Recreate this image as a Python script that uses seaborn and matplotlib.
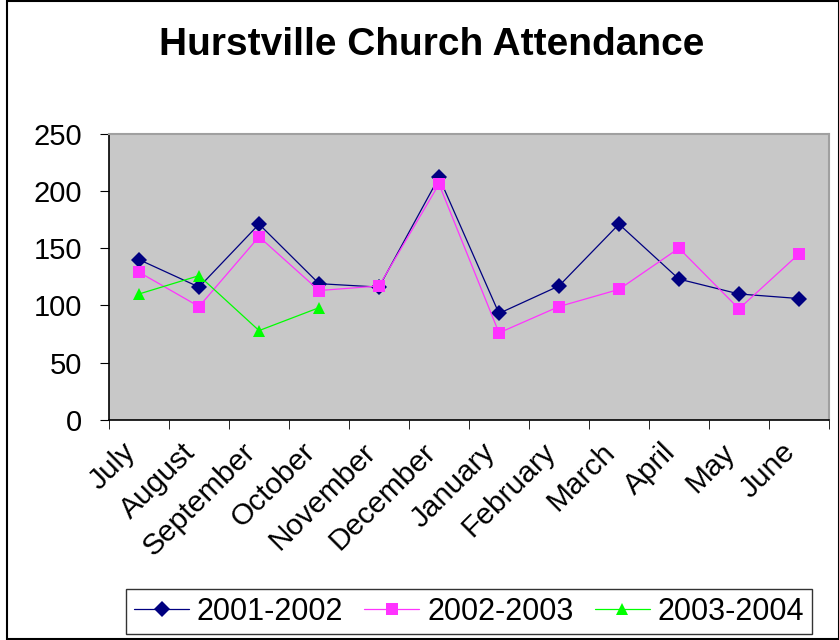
import numpy as np
import pandas as pd
import seaborn as sns
import matplotlib.pyplot as plt
import matplotlib.transforms as mtransforms
from matplotlib.patches import Rectangle

months = ['July', 'August', 'September', 'October', 'November', 'December',
          'January', 'February', 'March', 'April', 'May', 'June']
att_2001 = [140, 116, 171, 119, 116, 212, 93, 117, 171, 123, 110, 106]
att_2002 = [129, 99, 160, 113, 117, 206, 76, 99, 114, 150, 97, 145]
att_2003 = [110, 126, 78, 98, np.nan, np.nan, np.nan, np.nan, np.nan, np.nan, np.nan, np.nan]

seasons = ['2001-2002', '2002-2003', '2003-2004']
colors = ['#000080', '#FF33FF', '#00FF00']
markers = ['D', 's', '^']

df = pd.DataFrame({
    'month': months * 3,
    'pos': list(range(len(months))) * 3,
    'season': np.repeat(seasons, len(months)),
    'attendance': att_2001 + att_2002 + att_2003,
}).dropna()

sns.set_style('white')
plt.rcParams['font.family'] = ['Liberation Sans', 'DejaVu Sans']
plt.rcParams['text.color'] = 'black'
plt.rcParams['xtick.color'] = 'black'
plt.rcParams['ytick.color'] = 'black'

fig = plt.figure(figsize=(8.39, 6.40), dpi=100)
ax = fig.add_axes([0.130, 0.344, 0.858, 0.447])
ax.set_facecolor('#C8C8C8')

sns.lineplot(data=df, x='pos', y='attendance', hue='season', style='season',
             palette=colors, markers=markers, dashes=False, linewidth=0.9,
             markersize=8, markeredgewidth=0, ax=ax, legend=False)

ax.set_xlim(-0.5, len(months) - 0.5)
ax.set_ylim(0, 250)
ax.set_yticks(range(0, 251, 50))
ax.tick_params(axis='y', labelsize=21, length=6.5, direction='out', left=True, pad=13)
ax.set_xticks(range(len(months)))
ax.set_xticklabels(months, rotation=45, ha='right', rotation_mode='anchor', fontsize=21.5)
ax.tick_params(axis='x', which='major', length=0, pad=13)
# labels in the original sit a little left of the category centre
shift = mtransforms.ScaledTranslation(-0.18, 0, fig.dpi_scale_trans)
for lbl in ax.get_xticklabels():
    lbl.set_transform(lbl.get_transform() + shift)
ax.set_xticks(np.arange(-0.5, len(months), 1), minor=True)
ax.tick_params(axis='x', which='minor', length=6.5, direction='out', bottom=True)
ax.set_xlabel('')
ax.set_ylabel('')
for side in ['left', 'bottom']:
    ax.spines[side].set_color('black')
    ax.spines[side].set_linewidth(1.2)
for side in ['top', 'right']:
    ax.spines[side].set_color('#A0A0A0')
    ax.spines[side].set_linewidth(1.5)

fig.text(0.515, 0.930, 'Hurstville Church Attendance', ha='center', va='center',
         fontsize=28, fontweight='bold')

handles = [plt.Line2D([], [], color=c, marker=m, linewidth=0.9, markersize=8, markeredgewidth=0)
           for c, m in zip(colors, markers)]
leg = fig.legend(handles, seasons, loc='center', bbox_to_anchor=(0.559, 0.044), ncol=3,
                 fontsize=22, frameon=True, fancybox=False, edgecolor='black',
                 handlelength=1.8, columnspacing=0.7, borderpad=0.25, handletextpad=0.25,
                 borderaxespad=0)
leg.get_frame().set_linewidth(1.0)

fig.patches.append(Rectangle((7 / 839, 0.001), 1 - 7 / 839, 0.998, transform=fig.transFigure,
                             fill=False, edgecolor='black', linewidth=1.5))

fig.savefig('out.png', dpi=100)
